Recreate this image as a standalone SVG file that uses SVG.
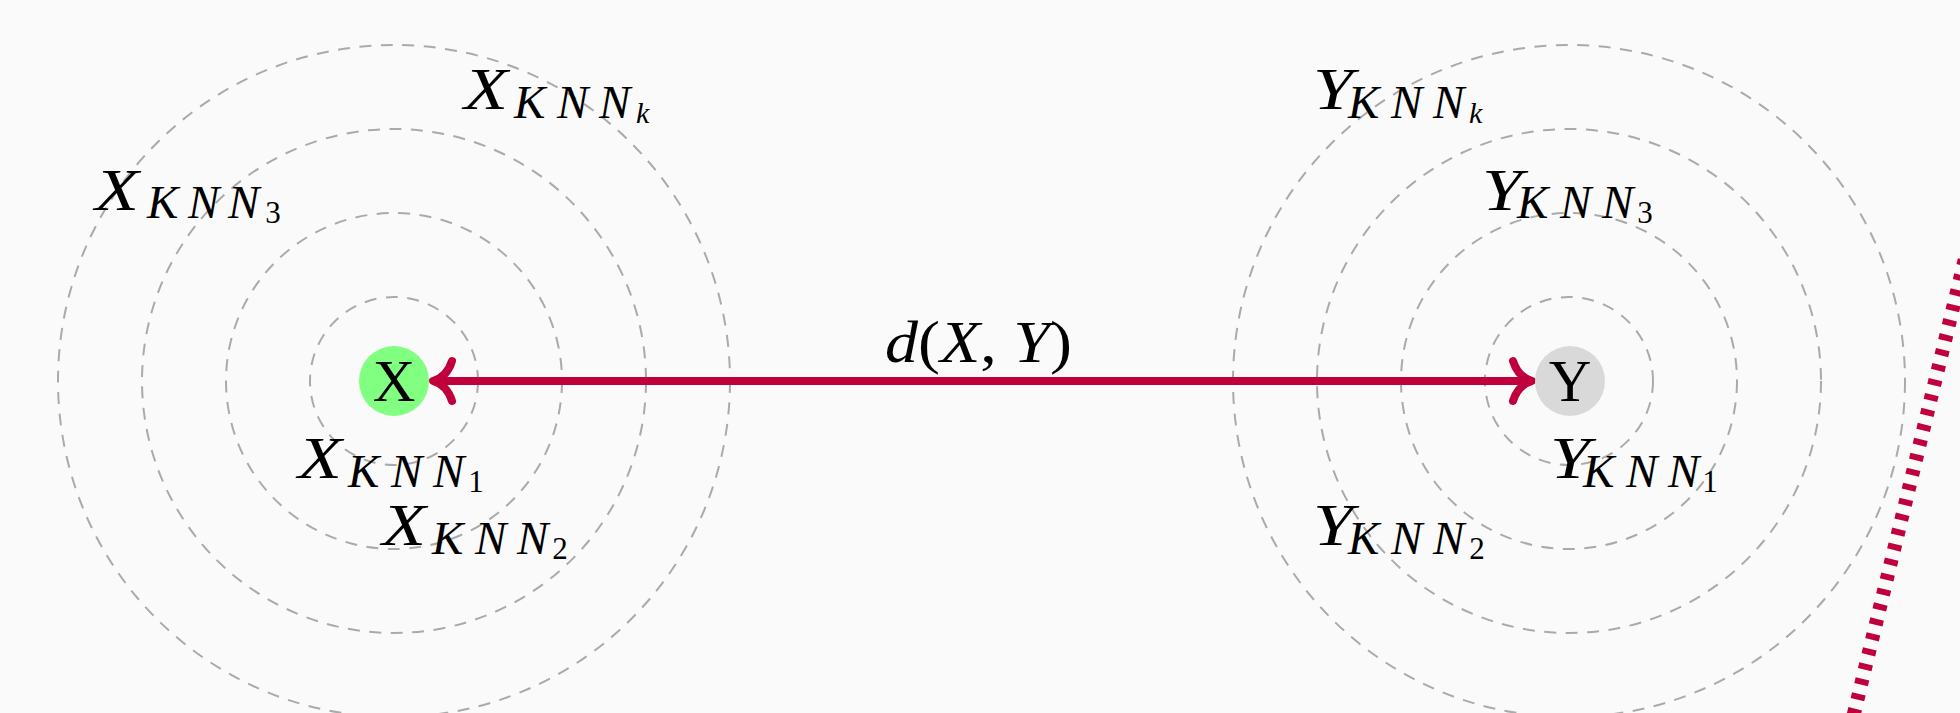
<svg xmlns="http://www.w3.org/2000/svg" width="1960" height="713" viewBox="0 0 1960 713">
<defs>
<style>
.ring{fill:none;stroke:#aaaaaa;stroke-width:2;stroke-dasharray:12 9.5}
.m{font-family:"Liberation Serif","DejaVu Serif",serif;font-style:italic;fill:#000}
.big{font-size:60px}
.sub{font-size:47px}
.ss{font-size:30px}
.up{font-family:"Liberation Serif","DejaVu Serif",serif;font-size:59px;fill:#000;text-anchor:middle}
.dig{font-family:"Liberation Serif","DejaVu Serif",serif;font-size:31px;fill:#000;text-anchor:middle}
.red{stroke:#c0003c;fill:none;stroke-linecap:round;stroke-linejoin:round}
.rdash{stroke:#c0003c;fill:none;stroke-width:14;stroke-dasharray:6 9.4}
</style>
</defs>
<rect width="1960" height="713" fill="#fafafa"/>
<g id="rings-x">
<circle class="ring" cx="394" cy="381" r="84"/>
<circle class="ring" cx="394" cy="381" r="168"/>
<circle class="ring" cx="394" cy="381" r="252"/>
<circle class="ring" cx="394" cy="381" r="336"/>
</g>
<g id="rings-y">
<circle class="ring" cx="1569" cy="381" r="84"/>
<circle class="ring" cx="1569" cy="381" r="168"/>
<circle class="ring" cx="1569" cy="381" r="252"/>
<circle class="ring" cx="1569" cy="381" r="336"/>
</g>
<g id="connectors">
<line class="red" x1="438" y1="381" x2="1528" y2="381" stroke-width="8"/>
<path class="red" stroke-width="8" d="M452 361 Q447 377 433 381 Q447 385 452 401"/>
<path class="red" stroke-width="8" d="M1513 361 Q1518 377 1532 381 Q1518 385 1513 401"/>
<line class="rdash" x1="1972" y1="230" x2="1850" y2="730"/>
<text class="m big" x="885" y="362" textLength="187" lengthAdjust="spacingAndGlyphs">d<tspan font-style="normal">(</tspan>X<tspan font-style="normal">, </tspan>Y<tspan font-style="normal">)</tspan></text>
</g>
<g id="node-x">
<circle cx="394" cy="381" r="35" fill="#80ff80"/>
<text class="up" x="394" y="401">X</text>
</g>
<g id="node-y">
<circle cx="1570" cy="381" r="35" fill="#d9d9d9"/>
<text class="up" x="1570" y="401">Y</text>
</g>
<g id="label-xk">
<text class="m big" x="464" y="109" textLength="44" lengthAdjust="spacingAndGlyphs">X</text>
<text class="m sub" x="514 557 599" y="118">KNN</text>
<text class="m ss" x="636" y="123">k</text>
</g>
<g id="label-x3">
<text class="m big" x="95" y="210" textLength="44" lengthAdjust="spacingAndGlyphs">X</text>
<text class="m sub" x="147 188 228" y="218">KNN</text>
<text class="dig" x="273" y="223">3</text>
</g>
<g id="label-x1">
<text class="m big" x="298" y="478" textLength="44" lengthAdjust="spacingAndGlyphs">X</text>
<text class="m sub" x="348 391 433" y="487">KNN</text>
<text class="dig" x="476" y="492">1</text>
</g>
<g id="label-x2">
<text class="m big" x="382" y="545" textLength="44" lengthAdjust="spacingAndGlyphs">X</text>
<text class="m sub" x="432 475 517" y="554">KNN</text>
<text class="dig" x="560" y="559">2</text>
</g>
<g id="label-yk">
<text class="m big" x="1313" y="109" textLength="40" lengthAdjust="spacingAndGlyphs">Y</text>
<text class="m sub" x="1348 1391 1433" y="118">KNN</text>
<text class="m ss" x="1469" y="123">k</text>
</g>
<g id="label-y3">
<text class="m big" x="1482" y="210" textLength="40" lengthAdjust="spacingAndGlyphs">Y</text>
<text class="m sub" x="1517 1560 1602" y="218">KNN</text>
<text class="dig" x="1645" y="223">3</text>
</g>
<g id="label-y1">
<text class="m big" x="1550" y="478" textLength="40" lengthAdjust="spacingAndGlyphs">Y</text>
<text class="m sub" x="1583 1626 1668" y="487">KNN</text>
<text class="dig" x="1710" y="492">1</text>
</g>
<g id="label-y2">
<text class="m big" x="1313" y="545" textLength="40" lengthAdjust="spacingAndGlyphs">Y</text>
<text class="m sub" x="1348 1391 1433" y="554">KNN</text>
<text class="dig" x="1477" y="559">2</text>
</g>
</svg>
